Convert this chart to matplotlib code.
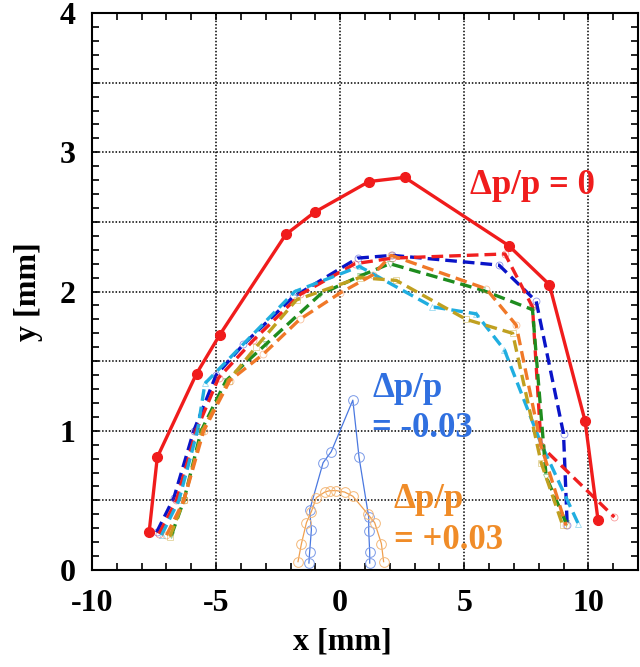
import matplotlib
matplotlib.use("Agg")
import matplotlib.pyplot as plt
from matplotlib.ticker import MultipleLocator

plt.rcParams['font.family'] = ['Liberation Serif', 'DejaVu Serif']
plt.rcParams['font.weight'] = 'bold'
plt.rcParams['axes.unicode_minus'] = False

# measured beam profile, dp/p = 0
meas_x = [-7.7, -7.37, -5.79, -4.85, -2.19, -1.03, 1.16, 2.60, 6.79, 8.43, 9.87, 10.39]
meas_y = [0.27, 0.81, 1.41, 1.69, 2.41, 2.57, 2.79, 2.82, 2.33, 2.05, 1.07, 0.36]

# simulated profiles (dashed)
blue_x = [-7.4, -6.7, -5.9, -5.0, -3.9, -1.9, 0.7, 2.1, 6.4, 7.9, 9.0, 9.15]
blue_y = [0.27, 0.52, 1.00, 1.40, 1.62, 1.96, 2.24, 2.26, 2.19, 1.93, 0.98, 0.32]
red_x = [-7.3, -6.6, -5.8, -4.9, -3.5, -1.6, 0.6, 2.1, 6.64, 7.75, 8.1, 11.05]
red_y = [0.26, 0.50, 1.00, 1.38, 1.65, 1.98, 2.20, 2.24, 2.27, 1.89, 0.89, 0.38]
green_x = [-6.8, -6.3, -5.6, -4.6, -3.0, -0.8, 0.78, 2.0, 5.73, 7.75, 8.3, 9.1]
green_y = [0.25, 0.50, 1.00, 1.36, 1.62, 1.98, 2.11, 2.20, 2.01, 1.87, 0.67, 0.34]
cyan_x = [-7.2, -6.5, -5.75, -5.45, -1.83, 0.78, 3.72, 5.48, 6.62, 8.09, 9.6]
cyan_y = [0.25, 0.50, 1.00, 1.34, 2.00, 2.18, 1.89, 1.84, 1.58, 0.91, 0.33]
orange_x = [-7.0, -6.3, -5.5, -4.45, -3.1, -1.63, 0.0, 1.32, 2.06, 5.88, 7.09, 8.1, 9.1]
orange_y = [0.25, 0.50, 1.00, 1.36, 1.55, 1.80, 1.99, 2.12, 2.26, 2.02, 1.76, 0.89, 0.32]
olive_x = [-6.86, -6.3, -5.55, -4.5, -3.4, -1.76, 0.78, 2.26, 5.08, 6.95, 8.1, 8.97]
olive_y = [0.24, 0.50, 1.00, 1.36, 1.60, 1.94, 2.10, 2.08, 1.80, 1.70, 0.77, 0.32]

# dp/p = -0.03
neg_x = [-1.26, -1.23, -1.16, -1.23, -0.69, -0.36, 0.51, 0.76, 1.15, 1.15, 1.19, 1.19]
neg_y = [0.05, 0.13, 0.29, 0.43, 0.77, 0.85, 1.22, 0.81, 0.38, 0.28, 0.13, 0.05]
# dp/p = +0.03
pos_x = [-1.70, -1.56, -1.36, -1.16, -0.96, -0.62, -0.42, -0.15, 0.18, 0.51, 1.12, 1.39, 1.66, 1.75]
pos_y = [0.06, 0.19, 0.34, 0.42, 0.52, 0.56, 0.57, 0.57, 0.56, 0.53, 0.40, 0.34, 0.19, 0.06]

fig = plt.figure(figsize=(6.4, 6.67), dpi=100)
ax = fig.add_axes([0.1438, 0.1454, 0.853, 0.835])

dash = (0, (3.5, 1.8))
sims = [
    (blue_x, blue_y, '#0a14c8', 'o'),
    (red_x, red_y, '#f02020', 'o'),
    (cyan_x, cyan_y, '#20aee0', '^'),
    (green_x, green_y, '#1e8c1e', 'v'),
    (olive_x, olive_y, '#c0a020', 's'),
    (orange_x, orange_y, '#f07828', 'o'),
]
for xs, ys, c, m in sims:
    ax.plot(xs, ys, linestyle=dash, color=c, lw=2.4)
    ax.plot(xs, ys, linestyle='none', marker=m, ms=5, mfc='none', mec=c,
            mew=0.6, alpha=0.45)

ax.plot(meas_x, meas_y, '-', color='#f01c1c', lw=2.4, marker='o', ms=7, zorder=5)

ax.plot(neg_x, neg_y, '-', color='#4a78e0', lw=0.9, marker='o', ms=7,
        mfc='none', mec='#7a9ae8', mew=0.7)
ax.plot(pos_x, pos_y, '-', color='#f0a050', lw=0.9, marker='o', ms=7,
        mfc='none', mec='#f4b878', mew=0.7)

ax.text(5.25, 2.76, 'Δp/p = 0', color='#f01c1c', fontsize=25, fontweight='bold',
        ha='left', va='center')
ax.text(1.3, 1.16, 'Δp/p\n= -0.03', color='#3070e0', fontsize=25, fontweight='bold',
        ha='left', va='center', linespacing=1.3)
ax.text(2.15, 0.36, 'Δp/p\n= +0.03', color='#f08c28', fontsize=25, fontweight='bold',
        ha='left', va='center', linespacing=1.3)

ax.set_xlim(-10, 12)
ax.set_ylim(0, 4)
ax.xaxis.set_major_locator(MultipleLocator(5))
ax.xaxis.set_minor_locator(MultipleLocator(1))
ax.yaxis.set_major_locator(MultipleLocator(1))
ax.yaxis.set_minor_locator(MultipleLocator(0.1))
ax.tick_params(which='both', direction='in', top=True, right=True,
               length=5, width=1.2, labelsize=23)
ax.tick_params(axis='x', pad=14)
ax.tick_params(axis='y', pad=12)

# dotted grid: x every 5, y every 0.5
for gx in [-5, 0, 5, 10]:
    ax.axvline(gx, color='black', lw=1.1, ls=(0, (1, 1.2)), zorder=0)
for gy in [0.5, 1, 1.5, 2, 2.5, 3, 3.5]:
    ax.axhline(gy, color='black', lw=1.1, ls=(0, (1, 1.2)), zorder=0)

for s in ax.spines.values():
    s.set_linewidth(1.5)

ax.set_xlabel('x [mm]', fontsize=23, fontweight='bold')
ax.xaxis.set_label_coords(0.458, -0.104)
ax.set_ylabel('y [mm]', fontsize=23, fontweight='bold', labelpad=12)

fig.savefig('out.png', dpi=100)
